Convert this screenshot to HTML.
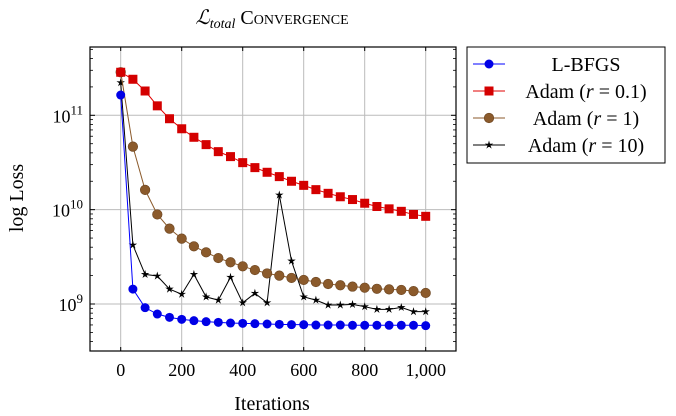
<!DOCTYPE html>
<html><head><meta charset="utf-8"><style>
body{margin:0;background:#fff;}
svg{display:block;font-family:"Liberation Serif",serif;}
</style></head><body>
<svg id="chart" width="676" height="416" xmlns="http://www.w3.org/2000/svg">
<text x="272" y="24" text-anchor="middle" font-size="20"><tspan font-style="italic">ℒ</tspan><tspan font-style="italic" font-size="14" dy="4">total</tspan><tspan dy="-4" font-variant="small-caps"> Convergence</tspan></text>
<text transform="translate(23,198) rotate(-90)" text-anchor="middle" font-size="20">log Loss</text>
<text x="272" y="410" text-anchor="middle" font-size="20">Iterations</text>
<g id="grid"></g><g id="series"></g><g id="axes"></g>
<g>
<rect x="467" y="47" width="198" height="116" fill="#fff" stroke="#000" stroke-width="1"/>
<g id="legend"></g>
</g>
</svg>
<script>
const iterations=[0,40,80,120,160,200,240,280,320,360,400,440,480,520,560,600,640,680,720,760,800,840,880,920,960,1000];
const lbfgs=[1.64e11,1.44e9,9.15e8,7.83e8,7.22e8,6.88e8,6.66e8,6.5e8,6.39e8,6.29e8,6.24e8,6.19e8,6.14e8,6.09e8,6.04e8,6.04e8,5.99e8,5.99e8,5.99e8,5.95e8,5.95e8,5.95e8,5.95e8,5.95e8,5.95e8,5.9e8];
const adam01=[2.86e11,2.41e11,1.81e11,1.26e11,9.2e10,7.2e10,5.85e10,4.89e10,4.12e10,3.65e10,3.15e10,2.79e10,2.49e10,2.24e10,2.0e10,1.81e10,1.63e10,1.49e10,1.37e10,1.28e10,1.17e10,1.08e10,1.02e10,9.6e9,8.9e9,8.5e9];
const adam1=[2.86e11,4.66e10,1.62e10,8.9e9,6.3e9,4.93e9,4.09e9,3.53e9,3.07e9,2.77e9,2.51e9,2.29e9,2.11e9,2.0e9,1.89e9,1.8e9,1.71e9,1.63e9,1.58e9,1.53e9,1.49e9,1.45e9,1.43e9,1.41e9,1.37e9,1.31e9];
const adam10=[2.22e11,4.22e9,2.06e9,1.98e9,1.44e9,1.27e9,2.06e9,1.19e9,1.1e9,1.92e9,1.03e9,1.3e9,1.03e9,1.43e10,2.86e9,1.19e9,1.1e9,9.76e8,9.76e8,9.9e8,9.37e8,8.78e8,8.78e8,9.2e8,8.3e8,8.3e8];
const xTicks=[0,200,400,600,800,1000];
const xTickLabels=["0","200","400","600","800","1,000"];
const yExps=[9,10,11];

const L=90,R=456,T=47,B=351;
const ymin=8.502,ymax=11.724;
const xs=v=>120.7+v*0.305;
const ys=v=>B-(Math.log10(v)-ymin)/(ymax-ymin)*(B-T);
const NS="http://www.w3.org/2000/svg";
function mk(tag,attrs,parent){const e=document.createElementNS(NS,tag);for(const k in attrs)e.setAttribute(k,attrs[k]);parent.appendChild(e);return e;}
const grid=document.getElementById('grid'),axes=document.getElementById('axes'),ser=document.getElementById('series'),leg=document.getElementById('legend');
xTicks.forEach((t,i)=>{
 const x=xs(t);
 const g=mk('line',{x1:x,x2:x,y1:T,y2:B,stroke:'#bbb','stroke-width':1},grid);
 
 
 mk('line',{x1:x,x2:x,y1:B,y2:B-4,stroke:'#000'},axes);
 mk('line',{x1:x,x2:x,y1:T,y2:T+4,stroke:'#000'},axes);
 const tx=mk('text',{x:x,y:B+25,'text-anchor':'middle','font-size':18},axes);
 tx.textContent=xTickLabels[i];
 
 
});
yExps.forEach(e=>{
 const y=ys(Math.pow(10,e));
 const g=mk('line',{x1:L,x2:R,y1:y,y2:y,stroke:'#bbb','stroke-width':1},grid);
 
 
 mk('line',{x1:L,x2:L+5,y1:y,y2:y,stroke:'#000'},axes);
 mk('line',{x1:R,x2:R-5,y1:y,y2:y,stroke:'#000'},axes);
 const tx=mk('text',{x:L-7,y:y+7,'text-anchor':'end','font-size':18},axes);
 
 
 tx.innerHTML='10<tspan font-size="13" dy="-8">'+e+'</tspan>';
});
for(let e=8;e<=11;e++)for(let m=2;m<=9;m++){
 const v=m*Math.pow(10,e);const y=ys(v);
 if(y<T||y>B)continue;
 mk('line',{x1:L,x2:L+3,y1:y,y2:y,stroke:'#000','stroke-width':0.8},axes);
 mk('line',{x1:R,x2:R-3,y1:y,y2:y,stroke:'#000','stroke-width':0.8},axes);
}
const frame=mk('rect',{x:L,y:T,width:R-L,height:B-T,fill:'none',stroke:'#000','stroke-width':1.2},axes);



function marker(type,x,y,p){
 if(type==='circle')return mk('circle',{cx:x,cy:y,r:4.5,fill:'#0000e6'},p);
 if(type==='square')return mk('rect',{x:x-4.5,y:y-4.5,width:9,height:9,fill:'#d40000'},p);
 if(type==='brown')return mk('circle',{cx:x,cy:y,r:4.8,fill:'#8b5a2b',stroke:'#6b4420','stroke-width':0.6},p);
 let pts=[];for(let i=0;i<10;i++){const r=i%2?1.2:3.4;const a=-Math.PI/2+i*Math.PI/5;pts.push((x+r*Math.cos(a)).toFixed(2)+','+(y+r*Math.sin(a)).toFixed(2));}
 return mk('polygon',{points:pts.join(' '),fill:'#000',stroke:'#000','stroke-width':0.6},p);
}
const series=[
 {name:'series-adam-r10',data:adam10,color:'#000',m:'star',label:'Adam (<tspan font-style="italic">r</tspan> = 10)'},
 {name:'series-adam-r1',data:adam1,color:'#8b5a2b',m:'brown',label:'Adam (<tspan font-style="italic">r</tspan> = 1)'},
 {name:'series-adam-r0.1',data:adam01,color:'#e00000',m:'square',label:'Adam (<tspan font-style="italic">r</tspan> = 0.1)'},
 {name:'series-lbfgs',data:lbfgs,color:'#0000ff',m:'circle',label:'L-BFGS'}
];
series.forEach(s=>{
 const g=mk('g',{},ser);
 
 
 mk('polyline',{points:s.data.map((v,i)=>xs(iterations[i])+','+ys(v)).join(' '),fill:'none',stroke:s.color,'stroke-width':1},g);
 s.data.forEach((v,i)=>{const m=marker(s.m,xs(iterations[i]),ys(v),g);
  
  });
});
const order=[3,2,1,0];
order.forEach((k,i)=>{
 const s=series[k];const y=64+i*27;
 const g=mk('g',{},leg);
 
 
 mk('line',{x1:473,x2:505,y1:y,y2:y,stroke:s.color,'stroke-width':1},g);
 marker(s.m,489,y,g);
 const t=mk('text',{x:586,y:y+7,'text-anchor':'middle','font-size':20},g);
 t.innerHTML=s.label;
});
</script>
</body></html>
